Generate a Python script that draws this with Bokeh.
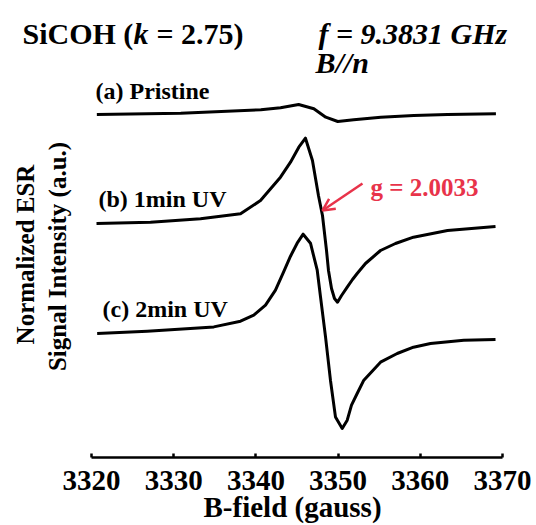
import math
from bokeh.plotting import figure
from bokeh.models import Range1d, FixedTicker, Label, Arrow, OpenHead, Title
from bokeh.embed import file_html
from bokeh.resources import INLINE

# ---- data ----
field_a = [3320.65, 3330.86, 3340.6, 3343.0, 3345.2, 3347.05, 3348.5, 3349.96, 3351.9, 3355.2, 3359.2, 3363.3, 3369.2]
sig_a = [0, 1.3, 4.7, 6.7, 10, 5.7, -2.7, -7, -5.3, -2.7, -1, 0, 0.7]

field_b = [3320.61, 3327.18, 3333.26, 3338.13, 3340.56, 3342.99, 3344.21, 3345.22, 3346.03, 3346.88,
           3347.61, 3348.10, 3348.59, 3348.83, 3349.20, 3349.56, 3349.93, 3350.42, 3351.11, 3351.75,
           3352.32, 3353.33, 3355.16, 3356.98, 3359.17, 3363.31, 3369.15]
sig_b = [0, 1.3, 4.7, 9.7, 23, 46.3, 61.3, 76.3, 85.3, 63, 28, 8, -27, -47, -65, -75, -78.7, -72,
         -63.7, -56, -50, -40, -27, -20, -13.7, -7, -3]

field_c = [3320.69, 3326.78, 3334.88, 3338.13, 3339.74, 3341.17, 3342.38, 3343.36, 3344.21, 3345.02,
           3345.75, 3346.64, 3347.46, 3347.86, 3348.47, 3349.07, 3349.68, 3350.50, 3351.11, 3351.63,
           3352.32, 3353.13, 3355.16, 3357.19, 3359.17, 3361.24, 3365.29, 3369.15]
sig_c = [0, 2.3, 6.6, 12.3, 18.3, 28.3, 43.3, 61.3, 77.3, 90.3, 99.3, 90.3, 63.3, 36.6, -3.4, -46.7,
         -83.4, -95, -86.7, -71.7, -60, -46.7, -28.7, -20, -13.7, -10, -6.7, -6]

offsets = [343, 234, 124]
x_ticks = [3320, 3330, 3340, 3350, 3360, 3370]
curve_labels = ["(a)  Pristine", "(b) 1min UV", "(c) 2min UV"]

FONT = "Liberation Serif"
RED = "#e8334a"

W, H = 536, 525
BOTTOM = 68
AX_L, AX_R = 91, 502           # pixel span of 3320..3370
k = 50.0 / (AX_R - AX_L)
frame_h = H - BOTTOM

p = figure(width=W, height=H, output_backend="svg", toolbar_location=None,
           x_range=Range1d(3320 - AX_L * k, 3370 + (W - AX_R) * k), y_range=Range1d(0, frame_h),
           y_axis_location=None, min_border_left=0, min_border_right=0,
           min_border_top=0, min_border_bottom=BOTTOM)
p.outline_line_color = None
p.grid.visible = False
p.background_fill_color = "white"
p.border_fill_color = "white"

def gx(px):
    return 3320 + (px - AX_L) * k

def gy(py):
    return frame_h - py

for fx, sg, off in zip([field_a, field_b, field_c], [sig_a, sig_b, sig_c], offsets):
    p.line(fx, [off + s for s in sg], line_color="black", line_width=3, line_join="round")

ax = p.xaxis[0]
ax.bounds = (3320, 3370)
ax.ticker = FixedTicker(ticks=x_ticks)
ax.axis_line_width = 2.5
ax.major_tick_line_width = 2.5
ax.major_tick_in = 4
ax.major_tick_out = 0
ax.minor_tick_in = 0
ax.minor_tick_out = 0
ax.major_label_text_font = FONT
ax.major_label_text_font_style = "bold"
ax.major_label_text_font_size = "29px"
ax.major_label_text_color = "black"
ax.major_label_standoff = 13

p.add_layout(Title(text="B-field (gauss)", align="left", offset=203, standoff=-8,
                   text_font=FONT, text_font_style="bold", text_font_size="29px",
                   text_color="black"), "below")

def lab(text, px, py, size, style="bold", color="black", align="left", angle=0):
    p.add_layout(Label(x=gx(px), y=gy(py), text=text, text_font=FONT, text_font_style=style,
                       text_font_size=f"{size}px", text_color=color, text_align=align,
                       text_baseline="alphabetic", angle=angle))

# title pieces
lab("SiCOH (", 22, 33, 30)
lab("k", 133, 33, 30, style="bold italic")
lab("= 2.75)", 156, 33, 30)
lab("f = 9.3831 GHz", 318, 33, 30, style="bold italic")
lab("B//n", 315, 62, 30, style="bold italic")

for t, (px, py) in zip(curve_labels, [(95, 90), (98, 198), (102, 308)]):
    lab(t, px, py, 24)

lab("g = 2.0033", 370, 187, 25, color=RED)
p.add_layout(Arrow(end=OpenHead(size=12, line_color=RED, line_width=2.5),
                   x_start=gx(362), y_start=gy(183), x_end=gx(322), y_end=gy(210),
                   line_color=RED, line_width=2.5))

lab("Normalized ESR", 25, 254, 25, align="center", angle=math.pi / 2)
lab("Signal Intensity (a.u.)", 57, 256, 25, align="center", angle=math.pi / 2)

open("out.html", "w").write(file_html(p, INLINE))
